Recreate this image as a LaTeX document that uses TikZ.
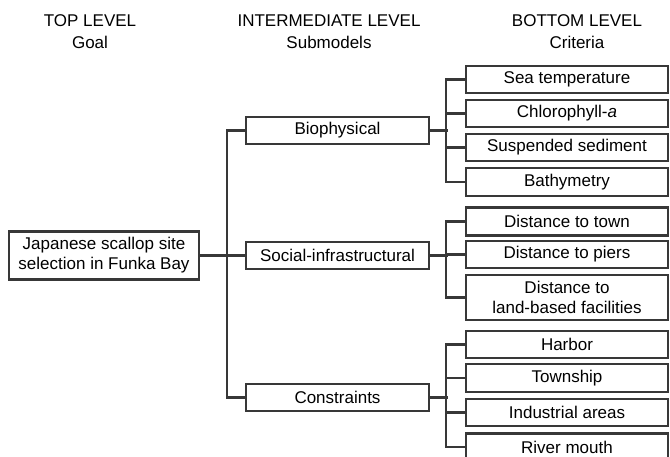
\documentclass[tikz,border=0pt]{standalone}
\usepackage{fontspec}
\setmainfont{Liberation Sans}

\def\lw{2.1pt}

\begin{document}
\begin{tikzpicture}[x=1pt, y=-1pt,
    every node/.style={font=\fontsize{17}{20}\selectfont, text=black},
    head/.style={align=center, font=\fontsize{17}{22}\selectfont},
    box/.style={draw=black!78, line width=\lw, align=center, inner sep=0pt, minimum height=27pt},
    sub/.style={box, minimum width=183pt},
    crit/.style={box, minimum width=202pt},
    link/.style={draw=black!78, line width=\lw}]
      \useasboundingbox (0,0) rectangle (670,456);
      % headers
      \node[head] (top) at (90, 32) {TOP LEVEL\\Goal};
      \node[head] (mid) at (329, 32) {INTERMEDIATE LEVEL\\Submodels};
      \node[head] (bot) at (577, 32) {BOTTOM LEVEL\\Criteria};
      % goal
      \node[box, minimum width=190pt, minimum height=48pt] (goal) at (104, 255.5) {Japanese scallop site\\selection in Funka Bay};
      % submodels
      \node[sub] (bio) at (337.5, 130.5) {Biophysical};
      \node[sub] (soc) at (337.5, 255.5) {Social-infrastructural};
      \node[sub] (con) at (337.5, 397.5) {Constraints};
      % criteria
      \node[crit] (sea) at (567, 79.5) {Sea temperature};
      \node[crit] (chl) at (567, 113.5) {Chlorophyll-\textit{a}};
      \node[crit] (sus) at (567, 147.5) {Suspended sediment};
      \node[crit, minimum height=28pt] (bat) at (567, 182) {Bathymetry};
      \node[crit, minimum height=28pt] (town) at (567, 221.5) {Distance to town};
      \node[crit] (piers) at (567, 254.5) {Distance to piers};
      \node[crit, minimum height=45pt] (land) at (567, 297.5) {Distance to\\land-based facilities};
      \node[crit] (harb) at (567, 344.5) {Harbor};
      \node[crit, minimum height=28pt] (town2) at (567, 378) {Township};
      \node[crit] (ind) at (567, 412.5) {Industrial areas};
      \node[crit] (riv) at (567, 447) {River mouth};
      % goal to submodels
      \draw[link] (goal.east) -- (soc.west);
      \draw[link] (bio.west) -- ++(-18, 0) |- (con.west);
      % submodels to criteria
      \draw[link] (bio.east) -- ++(18, 0);
      \draw[link] (sea.west) -- ++(-19, 0) |- (bat.west);
      \foreach \n in {chl, sus}
        \draw[link] (\n.west) -- ++(-19, 0);
      \draw[link] (soc.east) -- ++(18, 0);
      \draw[link] (town.west) -- ++(-19, 0) |- (land.west);
      \draw[link] (piers.west) -- ++(-19, 0);
      \draw[link] (con.east) -- ++(18, 0);
      \draw[link] (harb.west) -- ++(-19, 0) |- (riv.west);
      \foreach \n in {town2, ind}
        \draw[link] (\n.west) -- ++(-19, 0);
\end{tikzpicture}
\end{document}
